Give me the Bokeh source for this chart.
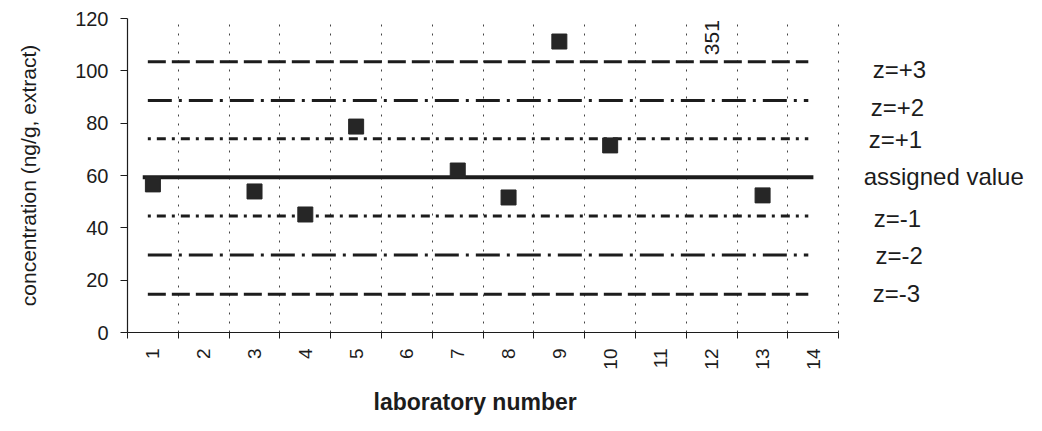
import math
from bokeh.plotting import figure
from bokeh.models import FixedTicker, Label, Range1d, Title
from bokeh.core.properties import value
from bokeh.embed import file_html
from bokeh.resources import INLINE

# ---- data ----
lab_numbers = list(range(1, 15))
lab_labels = [str(n) for n in lab_numbers]
cat_boundaries = [n + 0.5 for n in range(0, 15)]

labs = [1, 3, 4, 5, 7, 8, 9, 10, 13]
conc = [56.6, 53.9, 45.1, 78.7, 61.9, 51.6, 111.2, 71.5, 52.4]

offscale_lab = 12
offscale_value = "351"
offscale_text_y = 106.0

assigned_value = 59.3
z_names = ["z=+3", "z=+2", "z=+1", "z=-1", "z=-2", "z=-3"]
z_levels = [103.5, 88.7, 74.0, 44.5, 29.6, 14.6]
z_line_x = [0.9, 13.9]
assigned_line_x = [0.8, 14.0]

right_text = ["z=+3", "z=+2", "z=+1", "assigned value", "z=-1", "z=-2", "z=-3"]
right_text_y = [100.5, 86.0, 73.7, 59.6, 43.6, 29.4, 14.9]
right_text_x = [15.17, 15.13, 15.09, 14.99, 15.19, 15.22, 15.17]

y_ticks = [0, 20, 40, 60, 80, 100, 120]

FONT = "Liberation Sans"
INK = "#1c1c1c"

p = figure(width=1040, height=430,
           x_range=Range1d(0.5, 18.47), y_range=Range1d(0, 120),
           output_backend="svg", toolbar_location=None,
           min_border_left=127, min_border_right=0,
           min_border_top=18, min_border_bottom=98)
p.outline_line_color = None
p.background_fill_color = "white"
p.border_fill_color = "white"

# grids
p.ygrid.visible = False
p.xgrid.ticker = FixedTicker(ticks=cat_boundaries)
p.xgrid.grid_line_color = "#444444"
p.xgrid.grid_line_dash = "2 7"
p.xgrid.grid_line_width = 1

# x axis
xa = p.xaxis[0]
xa.bounds = (0.5, 14.5)
xa.ticker = FixedTicker(ticks=lab_numbers, minor_ticks=cat_boundaries)
xa.major_label_overrides = {n: s for n, s in zip(lab_numbers, lab_labels)}
xa.major_tick_line_color = None
xa.major_tick_out = 0
xa.major_tick_in = 0
xa.minor_tick_line_color = INK
xa.minor_tick_out = 6
xa.minor_tick_in = 0
xa.axis_line_color = INK
xa.axis_line_width = 1.2
xa.major_label_orientation = math.pi / 2
xa.major_label_standoff = 10
xa.major_label_text_font = FONT
xa.major_label_text_font_size = "19px"
xa.major_label_text_color = INK

# x axis title, centred under the axis (not the wider frame)
p.add_layout(Title(text="laboratory number", align="left", offset=246,
                   text_font=FONT, text_font_size="23px",
                   text_font_style="bold", text_color=INK, standoff=29),
             "below")

# y axis
ya = p.yaxis[0]
ya.ticker = FixedTicker(ticks=y_ticks)
ya.major_tick_out = 7
ya.major_tick_in = 0
ya.major_tick_line_color = INK
ya.minor_tick_line_color = None
ya.axis_line_color = INK
ya.axis_line_width = 1.2
ya.major_label_standoff = 12
ya.major_label_text_font = FONT
ya.major_label_text_font_size = "20px"
ya.major_label_text_color = INK
ya.axis_label = "concentration (ng/g, extract)"
ya.axis_label_text_font = FONT
ya.axis_label_text_font_size = "21px"
ya.axis_label_text_font_style = "normal"
ya.axis_label_text_color = INK
ya.axis_label_standoff = 32

# z lines
dashes = {3: "18 6", 2: "24 7 3 7", 1: "3 6 9 6"}
for name, level in zip(z_names, z_levels):
    k = int(name[-1])
    p.line(z_line_x, [level, level], line_color=INK, line_width=3,
           line_dash=dashes[k])

# assigned value
p.line(assigned_line_x, [assigned_value, assigned_value], line_color=INK,
       line_width=4)

# data points
p.scatter(labs, conc, marker="square", size=15, fill_color="#262626",
          line_color="#262626")

# off-scale value
p.add_layout(Label(x=offscale_lab, y=offscale_text_y, text=offscale_value,
                   angle=math.pi / 2, text_align="left",
                   text_baseline="middle", text_font=FONT,
                   text_font_size="21px", text_color=INK))

# right side labels
p.text(x=right_text_x, y=right_text_y, text=right_text,
       text_align="left", text_baseline="middle",
       text_font=value(FONT), text_font_size="24px", text_color=INK)

open("out.html", "w").write(file_html(p, INLINE))
